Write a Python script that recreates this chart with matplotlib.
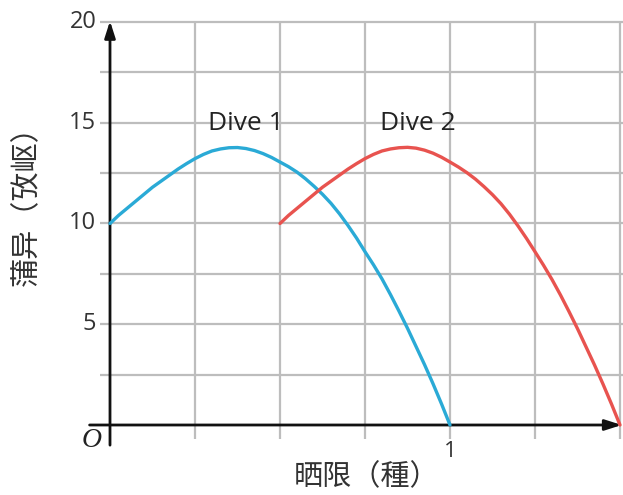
import matplotlib
matplotlib.use("Agg")
import matplotlib.pyplot as plt

# ---- data ----
t1 = [0.000, 0.025, 0.050, 0.075, 0.100, 0.125, 0.150, 0.175, 0.200, 0.225,
      0.250, 0.275, 0.300, 0.325, 0.350, 0.375, 0.400, 0.425, 0.450, 0.475,
      0.500, 0.525, 0.550, 0.575, 0.600, 0.625, 0.650, 0.675, 0.700, 0.725,
      0.750, 0.775, 0.800, 0.825, 0.850, 0.875, 0.900, 0.925, 0.950, 0.975, 1.000]
h1 = [10.0, 10.4, 10.75, 11.1, 11.45, 11.8, 12.1, 12.4, 12.7, 12.97,
      13.22, 13.43, 13.6, 13.7, 13.76, 13.77, 13.72, 13.62, 13.47, 13.28,
      13.05, 12.82, 12.55, 12.22, 11.85, 11.45, 11.0, 10.48, 9.9, 9.28,
      8.6, 7.95, 7.25, 6.47, 5.65, 4.8, 3.9, 3.0, 2.05, 1.05, 0.0]
t2 = [0.500, 0.525, 0.550, 0.575, 0.600, 0.625, 0.650, 0.675, 0.700, 0.725,
      0.750, 0.775, 0.800, 0.825, 0.850, 0.875, 0.900, 0.925, 0.950, 0.975,
      1.000, 1.025, 1.050, 1.075, 1.100, 1.125, 1.150, 1.175, 1.200, 1.225,
      1.250, 1.275, 1.300, 1.325, 1.350, 1.375, 1.400, 1.425, 1.450, 1.475, 1.500]
h2 = [10.0, 10.4, 10.75, 11.1, 11.45, 11.8, 12.1, 12.4, 12.7, 12.97,
      13.22, 13.43, 13.6, 13.7, 13.76, 13.78, 13.74, 13.64, 13.49, 13.29,
      13.05, 12.8, 12.52, 12.2, 11.83, 11.43, 10.98, 10.46, 9.88, 9.26,
      8.6, 7.93, 7.22, 6.45, 5.63, 4.78, 3.88, 2.98, 2.03, 1.04, 0.0]
series_labels = ["Dive 1", "Dive 2"]
label_pos = [(0.40, 14.95), (0.905, 14.95)]
y_ticks = [5, 10, 15, 20]
x_ticks = [1]
x_grid = [0.25, 0.5, 0.75, 1.0, 1.25, 1.5]
y_grid = [2.5, 5, 7.5, 10, 12.5, 15, 17.5, 20]
x_label = "晒限（種）"
y_label = "蒲异（攷岖）"

W, H = 623, 495
fig = plt.figure(figsize=(W / 100, H / 100), dpi=100)
# pixel mapping: x=0 -> 110px, x=1 -> 450px ; y=0 -> 425px, y=20 -> 22px
px_per_x = 340.0
px_per_y = 20.15
left_px, right_px = 88, 623
top_px, bot_px = 12, 450
x0 = (left_px - 110) / px_per_x
x1 = (right_px - 110) / px_per_x
y1 = (425 - top_px) / px_per_y
y0 = (425 - bot_px) / px_per_y
ax = fig.add_axes([left_px / W, 1 - bot_px / H, (right_px - left_px) / W, (bot_px - top_px) / H])
ax.set_xlim(x0, x1)
ax.set_ylim(y0, y1)
ax.axis("off")

grid_c = "#bdbdbd"
for gx in x_grid:
    ax.plot([gx, gx], [-0.7, 20], color=grid_c, lw=1.6, zorder=1, solid_capstyle="butt")
for gy in y_grid:
    ax.plot([-0.03, 1.51], [gy, gy], color=grid_c, lw=1.6, zorder=1, solid_capstyle="butt")

# axes with arrows
ax.annotate("", xy=(1.505, 0), xytext=(-0.06, 0),
            arrowprops=dict(arrowstyle="-|>,head_length=1.0,head_width=0.32", color="#111111",
                            lw=2.0, shrinkA=0, shrinkB=0), zorder=3)
ax.annotate("", xy=(0, 20.05), xytext=(0, -1.0),
            arrowprops=dict(arrowstyle="-|>,head_length=1.0,head_width=0.32", color="#111111",
                            lw=2.0, shrinkA=0, shrinkB=0), zorder=3)

ax.plot(t1, h1, color="#2aaad6", lw=2.4, zorder=4, solid_capstyle="round", solid_joinstyle="round")
ax.plot(t2, h2, color="#e8534f", lw=2.4, zorder=4, solid_capstyle="round", solid_joinstyle="round")

for lab, (lx, ly) in zip(series_labels, label_pos):
    ax.text(lx, ly, lab, fontsize=19, family="Open Sans", color="#222222",
            ha="center", va="center", zorder=5)

for yt in y_ticks:
    ax.text(-0.04, yt, str(yt), fontsize=17, family="Open Sans", color="#333333",
            ha="right", va="center", clip_on=False)
for xt in x_ticks:
    ax.text(xt, -1.3, str(xt), fontsize=16, family="Open Sans", color="#333333",
            ha="center", va="center", clip_on=False)
ax.text(-0.055, -0.75, "O", fontsize=20, family="Liberation Serif", style="italic",
        color="#222222", ha="center", va="center", clip_on=False)

fig.text(367 / W, 1 - 477 / H, x_label, fontsize=21,
         family=["Noto Sans CJK SC", "DejaVu Sans"], weight="light",
         color="#333333", ha="center", va="center")
fig.text(27 / W, 1 - 199 / H, y_label, fontsize=21, rotation=90,
         family=["Noto Sans CJK SC", "DejaVu Sans"], weight="light",
         color="#333333", ha="center", va="center")

fig.savefig("out.png", dpi=100)
